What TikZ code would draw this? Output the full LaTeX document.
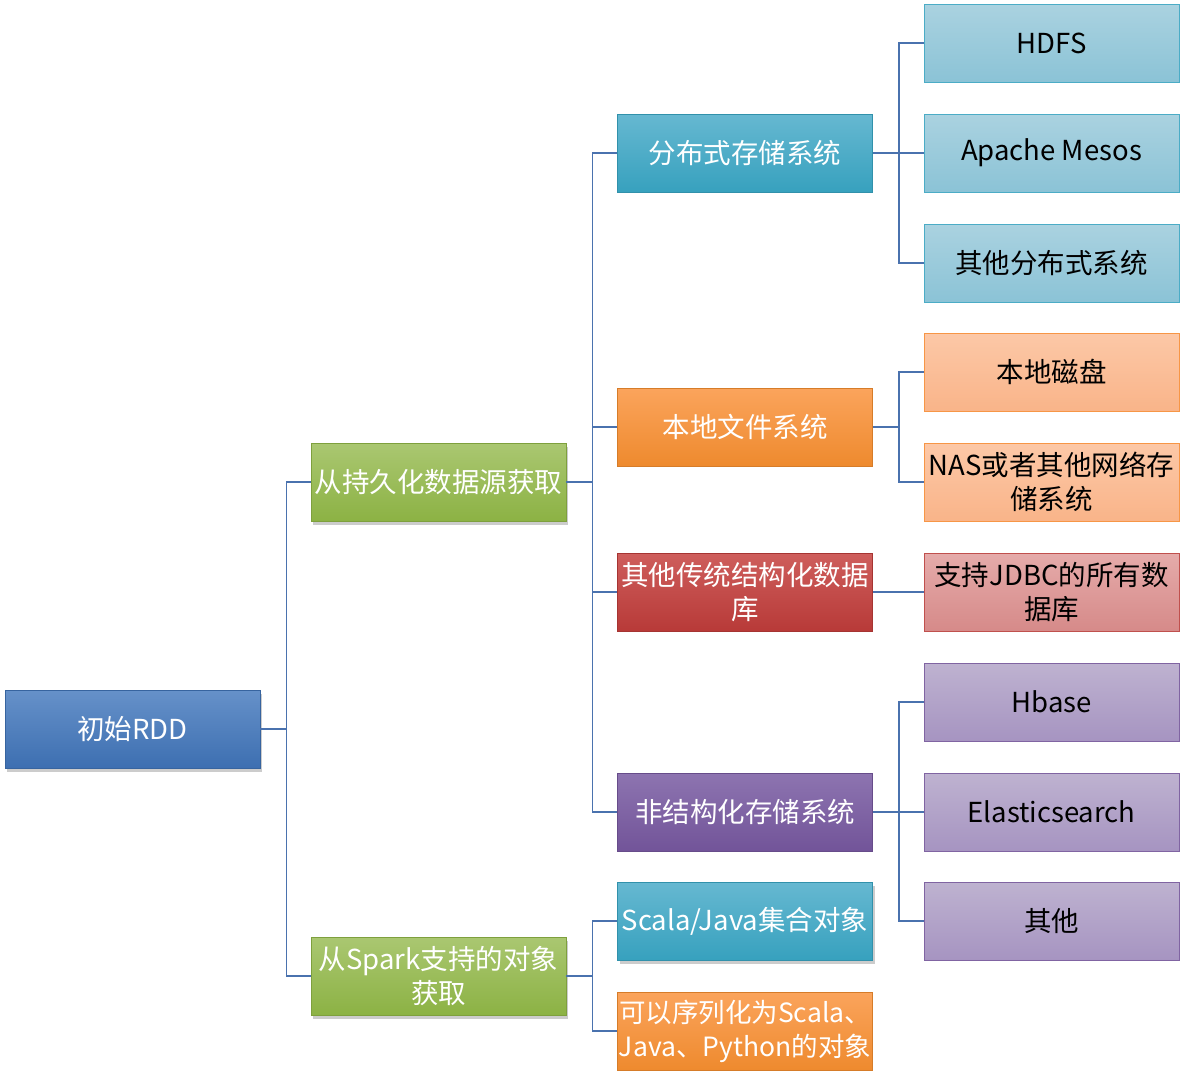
\documentclass[tikz,border=0pt]{standalone}
\usepackage{fontspec}
\setmainfont{Noto Sans CJK SC}
\usetikzlibrary{shadows}

\definecolor{rootTop}{HTML}{6691C9}
\definecolor{rootBot}{HTML}{3D6FB1}
\definecolor{greenTop}{HTML}{AAC771}
\definecolor{greenBot}{HTML}{8CB244}
\definecolor{tealTop}{HTML}{66B8D1}
\definecolor{tealBot}{HTML}{37A1BE}
\definecolor{orangeTop}{HTML}{FBA45C}
\definecolor{orangeBot}{HTML}{EE8A2E}
\definecolor{redTop}{HTML}{CE5E5C}
\definecolor{redBot}{HTML}{B83A38}
\definecolor{purpleTop}{HTML}{8D74B0}
\definecolor{purpleBot}{HTML}{725499}
\definecolor{ltealTop}{HTML}{AAD2E0}
\definecolor{ltealBot}{HTML}{8BC3D6}
\definecolor{ltealLine}{HTML}{4BACC6}
\definecolor{lorangeTop}{HTML}{FCC8A7}
\definecolor{lorangeBot}{HTML}{F9B489}
\definecolor{lorangeLine}{HTML}{F79646}
\definecolor{lredTop}{HTML}{E5ABAA}
\definecolor{lredBot}{HTML}{D68A89}
\definecolor{lredLine}{HTML}{C0504D}
\definecolor{lpurpleTop}{HTML}{BEB2D0}
\definecolor{lpurpleBot}{HTML}{A694C1}
\definecolor{lpurpleLine}{HTML}{8064A2}
\definecolor{linkBlue}{HTML}{4A72AE}

\begin{document}
\begin{tikzpicture}[
        x=1pt, y=-1pt,
        box/.style={rectangle, minimum width=255pt, minimum height=78pt,
            inner sep=0pt, align=center, font=\fontsize{27.5}{34}\selectfont},
        dark/.style={box, text=white, draw=#1Bot!90!black, line width=0.8pt,
            top color=#1Top, bottom color=#1Bot},
        light/.style={box, text=black, draw=#1Line, line width=0.8pt,
            top color=#1Top, bottom color=#1Bot},
        shade/.style={drop shadow={shadow xshift=2pt, shadow yshift=-4pt,
            opacity=0.2, fill=black}},
        link/.style={draw=linkBlue, line width=1.8pt}
    ]
        \useasboundingbox (0,0) rectangle (1188,1074);

        % Root
        \node[dark=root, shade] (R) at (132.5, 729) {初始RDD};

        % Level 1
        \node[dark=green, shade] (A) at (438.5, 482) {从持久化数据源获取};
        \node[dark=green, shade] (B) at (438.5, 976) {从Spark支持的对象\\获取};

        % Level 2 (from A)
        \node[dark=teal] (A1) at (745, 153) {分布式存储系统};
        \node[dark=orange] (A2) at (745, 427) {本地文件系统};
        \node[dark=red] (A3) at (745, 592) {其他传统结构化数据\\库};
        \node[dark=purple] (A4) at (745, 812) {非结构化存储系统};

        % Level 2 (from B)
        \node[dark=teal, shade] (B1) at (745, 921) {Scala/Java集合对象};
        \node[dark=orange, font=\fontsize{26.5}{34}\selectfont] (B2) at (745, 1031)
            {可以序列化为Scala、\\Java、Python的对象};

        % Level 3
        \node[light=lteal] (A11) at (1051.5, 43) {HDFS};
        \node[light=lteal] (A12) at (1051.5, 153) {Apache Mesos};
        \node[light=lteal] (A13) at (1051.5, 263) {其他分布式系统};
        \node[light=lorange] (A21) at (1051.5, 372) {本地磁盘};
        \node[light=lorange] (A22) at (1051.5, 482) {NAS或者其他网络存\\储系统};
        \node[light=lred] (A31) at (1051.5, 592) {支持JDBC的所有数\\据库};
        \node[light=lpurple] (A41) at (1051.5, 702) {Hbase};
        \node[light=lpurple] (A42) at (1051.5, 812) {Elasticsearch};
        \node[light=lpurple] (A43) at (1051.5, 921) {其他};

        % Verbindungen
        \foreach \c in {A,B}
            \draw[link] (R.east) -- ++(26,0) |- (\c.west);
        \foreach \c in {1,...,4}
            \draw[link] (A.east) -- ++(26,0) |- (A\c.west);
        \foreach \c in {1,2}
            \draw[link] (B.east) -- ++(26,0) |- (B\c.west);
        \foreach \c in {1,...,3}
            \draw[link] (A1.east) -- ++(26,0) |- (A1\c.west);
        \foreach \c in {1,2}
            \draw[link] (A2.east) -- ++(26,0) |- (A2\c.west);
        \draw[link] (A3.east) -- (A31.west);
        \foreach \c in {1,...,3}
            \draw[link] (A4.east) -- ++(26,0) |- (A4\c.west);

    \end{tikzpicture}
\end{document}
